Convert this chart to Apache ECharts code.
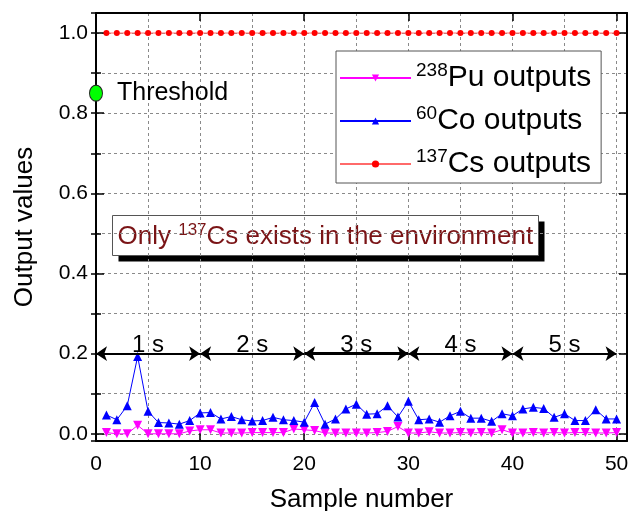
<!DOCTYPE html>
<html>
<head>
<meta charset="utf-8">
<title>Output values</title>
<script src="https://cdn.jsdelivr.net/npm/echarts@6/dist/echarts.min.js"></script>
<style>
  html, body { margin: 0; padding: 0; background: #fff; }
  #chart { width: 630px; height: 511px; }
</style>
</head>
<body>
<!--容器-->
<div id="chart"></div>
<script>
// sample numbers (x)
var samples = [1, 2, 3, 4, 5, 6, 7, 8, 9, 10,
  11, 12, 13, 14, 15, 16, 17, 18, 19, 20,
  21, 22, 23, 24, 25, 26, 27, 28, 29, 30,
  31, 32, 33, 34, 35, 36, 37, 38, 39, 40,
  41, 42, 43, 44, 45, 46, 47, 48, 49, 50];

// 238Pu outputs
var puValues = [0.003, 0.000, 0.000, 0.021, 0.000, 0.000, 0.000, 0.000, 0.007, 0.010,
  0.010, 0.002, 0.002, 0.002, 0.003, 0.003, 0.003, 0.003, 0.012, 0.010,
  0.008, 0.002, 0.002, 0.002, 0.002, 0.002, 0.003, 0.006, 0.018, 0.002,
  0.002, 0.005, 0.002, 0.002, 0.003, 0.002, 0.003, 0.002, 0.010, 0.002,
  0.002, 0.003, 0.002, 0.003, 0.002, 0.003, 0.003, 0.002, 0.002, 0.003];

// 60Co outputs
var coValues = [0.047, 0.035, 0.070, 0.193, 0.056, 0.028, 0.027, 0.024, 0.033, 0.052,
  0.053, 0.037, 0.043, 0.035, 0.032, 0.033, 0.041, 0.035, 0.033, 0.029,
  0.078, 0.024, 0.037, 0.062, 0.074, 0.049, 0.050, 0.070, 0.042, 0.081,
  0.035, 0.037, 0.029, 0.045, 0.056, 0.039, 0.039, 0.031, 0.050, 0.045,
  0.062, 0.066, 0.063, 0.041, 0.050, 0.033, 0.033, 0.060, 0.037, 0.037];

// 137Cs outputs
var csValues = [1, 1, 1, 1, 1, 1, 1, 1, 1, 1,
  1, 1, 1, 1, 1, 1, 1, 1, 1, 1,
  1, 1, 1, 1, 1, 1, 1, 1, 1, 1,
  1, 1, 1, 1, 1, 1, 1, 1, 1, 1,
  1, 1, 1, 1, 1, 1, 1, 1, 1, 1];

// series names: mass number + text
var seriesMass = ['238', '60', '137'];
var seriesText = ['Pu outputs', 'Co outputs', 'Cs outputs'];

// threshold point
var thresholdPoint = [0, 0.85];

// time spans (arrows)
var spanStart = [0, 10, 20, 30, 40];
var spanEnd = [10, 20, 30, 40, 50];
var spanLabels = ['1 s', '2 s', '3 s', '4 s', '5 s'];
var spanLevel = 0.2;

var FONT = '"Liberation Sans", Arial, sans-serif';

function pairs(values) {
  return samples.map(function (s, i) { return [s, values[i]]; });
}

var names = seriesMass.map(function (m, i) { return m + seriesText[i]; });

// arrow data for markLine
var arrowData = spanStart.map(function (s, i) {
  return [
    { coord: [s, spanLevel], name: spanLabels[i], lineStyle: { width: i === 2 ? 3 : 2 } },
    { coord: [spanEnd[i], spanLevel] }
  ];
});

var myChart = echarts.init(document.getElementById('chart'));

// 坐标轴公共样式
function xAxisBase(pos, showLabel) {
  return {
    type: 'value', position: pos, min: 0, max: 51, interval: 10,
    axisLine: { show: true, onZero: false, lineStyle: { color: '#000', width: 2 } },
    axisTick: { show: true, inside: true, length: 8, lineStyle: { color: '#000', width: 1.5 } },
    axisLabel: {
      show: showLabel, margin: 13, color: '#000', fontSize: 21, fontFamily: FONT,
      formatter: function (v) { return v % 10 === 0 ? String(v) : ''; }
    },
    splitLine: { show: false }
  };
}

function yAxisBase(pos, showLabel) {
  return {
    type: 'value', position: pos, min: -0.018, max: 1.05, splitNumber: 5,
    axisLine: { show: true, onZero: false, lineStyle: { color: '#000', width: 2 } },
    axisTick: { show: true, inside: true, length: 8, lineStyle: { color: '#000', width: 1.5 } },
    axisLabel: {
      show: showLabel, margin: 8, color: '#000', fontSize: 21, fontFamily: FONT,
      formatter: function (v) {
        return Math.abs(v * 5 - Math.round(v * 5)) < 1e-6 ? v.toFixed(1) : '';
      }
    },
    splitLine: { show: false }
  };
}

var gridLine = { show: true, lineStyle: { color: '#8a8a8a', width: 1, type: [3, 3] } };

var xBottom = xAxisBase('bottom', true);
xBottom.name = 'Sample number';
xBottom.nameLocation = 'middle';
xBottom.nameGap = 46;
xBottom.nameTextStyle = { fontSize: 26, fontFamily: FONT, color: '#000' };

var yLeft = yAxisBase('left', true);
yLeft.name = 'Output values';
yLeft.nameLocation = 'middle';
yLeft.nameGap = 58;
yLeft.nameTextStyle = { fontSize: 26, fontFamily: FONT, color: '#000' };

var option = {
  animation: false,
  backgroundColor: '#fff',
  grid: { left: 96, right: 3, top: 13, bottom: 70, containLabel: false, outerBoundsMode: 'none' },
  xAxis: [
    xBottom,
    xAxisBase('top', false),
    // grid lines every 5
    {
      type: 'value', position: 'bottom', min: 0, max: 51, interval: 5,
      axisLine: { show: false }, axisTick: { show: false }, axisLabel: { show: false },
      splitLine: gridLine
    }
  ],
  yAxis: [
    yLeft,
    yAxisBase('right', false),
    // grid lines + minor ticks every 0.1
    {
      type: 'value', position: 'left', min: -0.018, max: 1.05, splitNumber: 10,
      axisLine: { show: false },
      axisTick: { show: true, inside: true, length: 5, lineStyle: { color: '#000', width: 1.5 } },
      axisLabel: { show: false },
      splitLine: gridLine
    },
    {
      type: 'value', position: 'right', min: -0.018, max: 1.05, splitNumber: 10,
      axisLine: { show: false },
      axisTick: { show: true, inside: true, length: 5, lineStyle: { color: '#000', width: 1.5 } },
      axisLabel: { show: false },
      splitLine: { show: false }
    }
  ],
  legend: {
    data: names,
    orient: 'vertical',
    left: 336, top: 51,
    itemWidth: 71, itemHeight: 9, itemGap: 11,
    padding: [10, 10, 4, 3],
    backgroundColor: '#fff',
    borderColor: '#555', borderWidth: 1,
    formatter: function (name) {
      var i = names.indexOf(name);
      return '{sup|' + seriesMass[i] + '}{txt|' + seriesText[i] + '}';
    },
    textStyle: {
      color: '#000', fontSize: 30, fontFamily: FONT,
      rich: {
        sup: { fontSize: 19, fontFamily: FONT, verticalAlign: 'top', lineHeight: 24 },
        txt: { fontSize: 30, fontFamily: FONT, lineHeight: 34 }
      }
    }
  },
  series: [
    {
      name: names[0], type: 'line', data: pairs(puValues),
      symbol: 'triangle', symbolRotate: 180, symbolSize: 9,
      itemStyle: { color: '#ff00ff' },
      lineStyle: { color: '#ff00ff', width: 1 },
      z: 3
    },
    {
      name: names[1], type: 'line', data: pairs(coValues),
      symbol: 'triangle', symbolSize: 9,
      itemStyle: { color: '#0000ff' },
      lineStyle: { color: '#0000ff', width: 1 },
      z: 3
    },
    {
      name: names[2], type: 'line', data: pairs(csValues),
      symbol: 'circle', symbolSize: 6,
      itemStyle: { color: '#ff0000' },
      lineStyle: { color: '#ff6a6a', width: 1 },
      z: 3
    },
    {
      // threshold marker + arrows
      name: 'Threshold', type: 'scatter', data: [thresholdPoint],
      clip: false,
      symbol: 'circle', symbolSize: [13, 16],
      itemStyle: { color: '#00ff00', borderColor: '#222', borderWidth: 1, opacity: 1 },
      label: {
        show: true, position: 'right', distance: 14,
        formatter: 'Threshold', color: '#000', fontSize: 25, fontFamily: FONT,
        textBorderWidth: 0
      },
      markLine: {
        silent: true,
        symbol: ['arrow', 'arrow'],
        symbolSize: 11,
        lineStyle: { color: '#000', width: 2, type: 'solid', opacity: 1 },
        label: {
          show: true, position: 'insideMiddleTop', distance: -4,
          formatter: '{b}', color: '#000', fontSize: 24, fontFamily: FONT
        },
        data: arrowData
      },
      z: 5
    }
  ],
  graphic: [
    {
      type: 'group', left: 112, top: 215, z: 20,
      children: [
        { type: 'rect', shape: { x: 6, y: 6, width: 426, height: 40 }, style: { fill: '#000' } },
        { type: 'rect', shape: { x: 0, y: 0, width: 426, height: 40 }, style: { fill: '#fff', stroke: '#555', lineWidth: 1 } },
        {
          type: 'text', x: 5, y: 21,
          style: {
            text: '{t|Only }{s|137}{t|Cs exists in the environment}',
            verticalAlign: 'middle',
            rich: {
              t: { fontSize: 26, fontFamily: FONT, fill: '#7a1416', lineHeight: 30 },
              s: { fontSize: 17, fontFamily: FONT, fill: '#7a1416', verticalAlign: 'top', lineHeight: 22 }
            }
          }
        }
      ]
    }
  ]
};

myChart.setOption(option);
</script>
</body>
</html>
